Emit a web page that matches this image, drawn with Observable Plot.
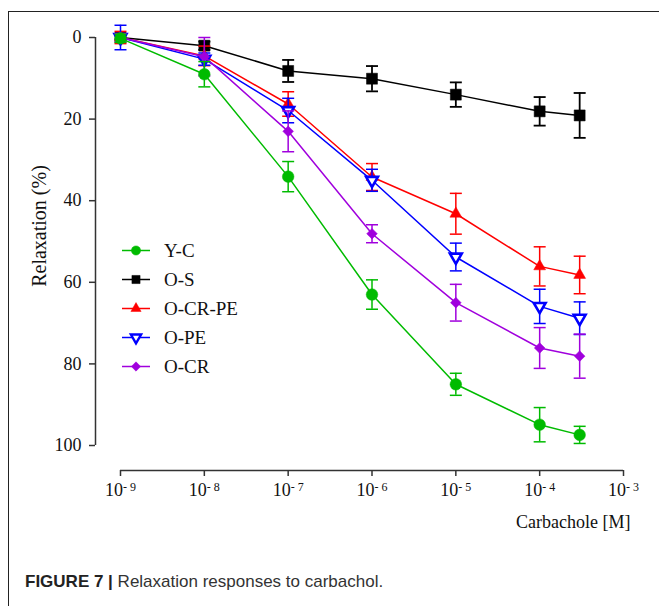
<!DOCTYPE html>
<html>
<head>
<meta charset="utf-8">
<script src="https://cdn.jsdelivr.net/npm/d3@7"></script>
<script src="https://cdn.jsdelivr.net/npm/@observablehq/plot@0.6"></script>
<style>
  html, body { margin: 0; padding: 0; background: #fff; }
  #wrap { position: relative; width: 659px; height: 606px; overflow: hidden; background: #fff; }
  #box { position: absolute; left: 8px; top: 11px; width: 800px; height: 800px;
         border-left: 1px solid #222; border-top: 1px solid #222; }
  #chart { position: absolute; left: 0; top: 0; }
  #legend { position: absolute; left: 0; top: 0; }
  #caption { position: absolute; left: 25px; top: 572px; font-family: "Liberation Sans", Arial, sans-serif;
             font-size: 17px; color: #333; white-space: nowrap; }
  #caption b { color: #222; }
</style>
</head>
<body>
<div id="wrap">
  <div id="box"></div>
  <div id="chart"></div>
  <svg id="legend" width="300" height="420"></svg>
  <div id="caption"><b>FIGURE 7 |</b> Relaxation responses to carbachol.</div>
</div>
<script>
// ---- data ----
const concentrations = [1e-9, 1e-8, 1e-7, 1e-6, 1e-5, 1e-4, 3e-4];
const seriesNames = ["Y-C", "O-S", "O-CR-PE", "O-PE", "O-CR"];
const ycMean   = [0.2, 9.0, 34.1, 63.0, 85.0, 94.9, 97.4];
const ycErr    = [1.0, 3.1, 3.7, 3.6, 2.7, 4.2, 2.1];
const osMean   = [0.0, 2.0, 8.2, 10.1, 14.0, 18.1, 19.1];
const osErr    = [0.5, 1.0, 2.7, 3.1, 3.0, 3.5, 5.5];
const ocrpeMean = [0.0, 4.5, 16.3, 34.2, 43.2, 56.1, 58.2];
const ocrpeErr  = [1.5, 2.4, 3.0, 3.3, 5.0, 4.8, 4.6];
const opeMean  = [0.0, 5.3, 17.9, 35.0, 53.8, 65.9, 68.8];
const opeErr   = [3.0, 1.5, 3.0, 2.7, 3.4, 4.2, 4.0];
const ocrMean  = [0.0, 4.7, 23.0, 48.1, 65.0, 76.1, 78.1];
const ocrErr   = [1.0, 4.7, 5.0, 2.2, 4.5, 5.0, 5.4];
const xTicks = [1e-9, 1e-8, 1e-7, 1e-6, 1e-5, 1e-4, 1e-3];
const yTicks = [0, 20, 40, 60, 80, 100];
const xLabel = "Carbachole [M]";
const yLabel = "Relaxation (%)";

// ---- styles ----
const styles = {
  "Y-C":     {color: "#00bb00", symbol: "circle",   r: 5.8, fill: "#00bb00", sw: 1.5, rotate: 0},
  "O-S":     {color: "#000000", symbol: "square",   r: 6.2, fill: "#000000", sw: 1.8, rotate: 0},
  "O-CR-PE": {color: "#ff0000", symbol: "triangle", r: 4.4, fill: "#ff0000", sw: 1.5, rotate: 0},
  "O-PE":    {color: "#0000ff", symbol: "triangle", r: 4.4, fill: "#ffffff", sw: 1.5, rotate: 180},
  "O-CR":    {color: "#a000dd", symbol: "diamond2", r: 4.8, fill: "#a000dd", sw: 1.5, rotate: 0}
};
const series = {
  "Y-C": [ycMean, ycErr], "O-S": [osMean, osErr], "O-CR-PE": [ocrpeMean, ocrpeErr],
  "O-PE": [opeMean, opeErr], "O-CR": [ocrMean, ocrErr]
};
const drawOrder = ["O-S", "O-CR-PE", "O-PE", "O-CR", "Y-C"];

const capSymbol = {draw(ctx, size) { const w = Math.sqrt(size / Math.PI); ctx.moveTo(-w, 0); ctx.lineTo(w, 0); }};
const fmtPow = d => "10^" + Math.round(Math.log10(d));

const marks = [];
for (const name of drawOrder) {
  const [mean, err] = series[name];
  const s = styles[name];
  const rows = concentrations.map((x, i) => ({x, y: mean[i], lo: mean[i] - err[i], hi: mean[i] + err[i]}));
  marks.push(Plot.line(rows, {x: "x", y: "y", stroke: s.color, strokeWidth: 1.5}));
  marks.push(Plot.ruleX(rows, {x: "x", y1: "lo", y2: "hi", stroke: s.color, strokeWidth: s.sw}));
  marks.push(Plot.dot(rows, {x: "x", y: "lo", symbol: capSymbol, r: 6, stroke: s.color, strokeWidth: s.sw, fill: "none"}));
  marks.push(Plot.dot(rows, {x: "x", y: "hi", symbol: capSymbol, r: 6, stroke: s.color, strokeWidth: s.sw, fill: "none"}));
  marks.push(Plot.dot(rows, {x: "x", y: "y", symbol: s.symbol, r: s.r, fill: s.fill, stroke: s.color,
    strokeWidth: name === "O-PE" ? 2.6 : 0.5, rotate: s.rotate}));
}

const chart = Plot.plot({
  width: 659,
  height: 550,
  marginLeft: 95,
  marginRight: 36,
  marginTop: 37,
  marginBottom: 80,
  style: {fontFamily: "'Liberation Serif', 'Times New Roman', serif", fontSize: "18px", color: "#111", background: "transparent"},
  x: {type: "log", domain: [1e-9, 1e-3], insetLeft: 25},
  y: {domain: [0, 100], reverse: true, insetBottom: 25},
  marks: [
    Plot.ruleX([xTicks[0]], {y1: yTicks[0], y2: yTicks[yTicks.length - 1], dx: -25, stroke: "#333", strokeWidth: 1.5}),
    Plot.ruleY([yTicks[yTicks.length - 1]], {x1: xTicks[0], x2: xTicks[xTicks.length - 1], dy: 25, stroke: "#333", strokeWidth: 1.5}),
    Plot.axisY(yTicks, {anchor: "left", tickSize: 6, tickPadding: 8, fontSize: 18, label: null, stroke: "#333", strokeWidth: 1.5}),
    Plot.axisX(xTicks, {anchor: "bottom", tickSize: 6, tickPadding: 7, fontSize: 18, tickFormat: fmtPow, label: null, stroke: "#333", strokeWidth: 1.5}),
    Plot.text([yLabel], {frameAnchor: "left", textAnchor: "middle", rotate: -90, dx: -56, dy: -28, fontSize: 20, fill: "#111"}),
    Plot.text([xLabel], {frameAnchor: "bottom-right", textAnchor: "end", dx: 7, dy: 57, fontSize: 18, fill: "#111"}),
    ...marks
  ]
});
document.getElementById("chart").appendChild(chart);

// render x tick labels "10^-9" as 10 with a raised exponent
d3.select(chart).selectAll('g[aria-label="x-axis tick label"] text').each(function() {
  const t = d3.select(this);
  const raw = t.text();
  const [base, exp] = raw.split("^");
  t.text(base);
  t.append("tspan").attr("dy", "-0.45em").attr("font-size", "12px").text(exp.replace("-", "- "));
});

// ---- legend ----
const lg = d3.select("#legend");
const legendSizes = {"Y-C": 4.6, "O-S": 4.6, "O-CR-PE": 3.8, "O-PE": 3.8, "O-CR": 4.2};
seriesNames.forEach((name, i) => {
  const s = styles[name];
  const y = 250.5 + i * 29;
  const g = lg.append("g").attr("transform", `translate(0,${y})`);
  g.append("line").attr("x1", 122).attr("x2", 150).attr("y1", 0).attr("y2", 0)
    .attr("stroke", s.color).attr("stroke-width", 1.5);
  const symType = {circle: d3.symbolCircle, square: d3.symbolSquare, triangle: d3.symbolTriangle, diamond2: d3.symbolDiamond2}[s.symbol];
  const r = legendSizes[name];
  g.append("path").attr("d", d3.symbol(symType, Math.PI * r * r)())
    .attr("transform", `translate(136,0) rotate(${s.rotate})`)
    .attr("fill", s.fill).attr("stroke", s.color).attr("stroke-width", name === "O-PE" ? 2.4 : 0.5);
  g.append("text").attr("x", 164).attr("y", 0).attr("dy", "0.35em")
    .attr("font-family", "'Liberation Serif', 'Times New Roman', serif").attr("font-size", 19)
    .attr("fill", "#111").text(name);
});
</script>
</body>
</html>
